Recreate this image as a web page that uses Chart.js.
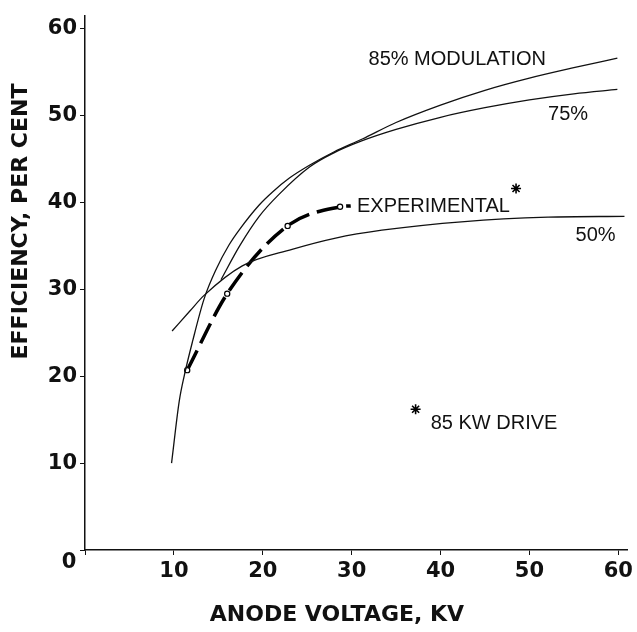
<!DOCTYPE html>
<html>
  <head>
    <title>Efficiency vs Anode Voltage</title>
    <script src="https://cdn.jsdelivr.net/npm/chart.js"></script>
    <style>
      body { margin: 0; background: #fff; }
    </style>
  </head>
  <body>
    <canvas id="eff_chart" width="637" height="632"></canvas>

    <script>
      // curves (anode voltage kV, efficiency %)
      var mod85X = [9.74, 10.6, 11.2, 12.1, 13.4, 14.8, 16.2, 17.4, 19.6, 21.1, 23.0, 25.3, 28.0, 31.2, 35.0, 40.0, 45.0, 50.0, 55.0, 59.9];
      var mod85Y = [10.0, 17.1, 20.2, 24.0, 28.9, 32.4, 35.1, 36.9, 39.7, 41.2, 42.8, 44.3, 45.8, 47.3, 49.2, 51.2, 52.9, 54.3, 55.5, 56.6];

      var mod75X = [15.3, 17.4, 19.6, 21.8, 25.3, 28.0, 31.2, 35.0, 40.0, 45.0, 50.0, 55.0, 59.9];
      var mod75Y = [31.1, 35.0, 38.4, 40.9, 44.1, 45.7, 47.1, 48.4, 49.8, 50.9, 51.8, 52.5, 53.0];

      var mod50X = [9.8, 11.8, 13.4, 17.7, 23.3, 28.2, 33.4, 42.7, 52.1, 60.7];
      var mod50Y = [25.2, 27.5, 29.3, 32.7, 34.6, 35.9, 36.8, 37.8, 38.3, 38.4];

      var expX = [11.5, 16.0, 22.8, 28.7, 29.9];
      var expY = [20.7, 29.5, 37.3, 39.5, 39.6];

      // the two "*" marks
      var starX = [48.5, 37.2];
      var starY = [41.6, 16.2];

      var xTicks = [0, 10, 20, 30, 40, 50, 60];
      var yTicks = [0, 10, 20, 30, 40, 50, 60];

      // text on the plot, anchored in data units (left edge, middle)
      var noteText = ["85% MODULATION", "75%", "EXPERIMENTAL", "50%", "85 KW DRIVE", "0"];
      var noteX = [31.9, 52.1, 30.6, 55.2, 38.9, -1.8];
      var noteY = [56.4, 50.1, 39.5, 36.2, 14.6, -1.4];

      function toPoints(xs, ys) {
        return xs.map(function (x, i) {
          return { x: x, y: ys[i] };
        });
      }

      var curveStyle = {
        showLine: true,
        borderColor: "#111",
        borderWidth: 1.3,
        pointRadius: 0,
        cubicInterpolationMode: "monotone",
        fill: false,
      };

      var notesPlugin = {
        id: "notesPlugin",
        afterDatasetsDraw: function (chart) {
          var ctx = chart.ctx;
          var xs = chart.scales.x;
          var ys = chart.scales.y;
          ctx.save();
          ctx.fillStyle = "#111";
          ctx.textBaseline = "middle";
          noteText.forEach(function (t, i) {
            if (t === "0") {
              ctx.font = "bold 21px 'DejaVu Sans'";
              ctx.textAlign = "center";
            } else {
              ctx.font = "20px 'Liberation Sans'";
              ctx.textAlign = "left";
            }
            ctx.fillText(t, xs.getPixelForValue(noteX[i]), ys.getPixelForValue(noteY[i]));
          });
          ctx.restore();
        },
      };

      var ctx = document.getElementById("eff_chart").getContext("2d");

      var myChart = new Chart(ctx, {
        type: "scatter",
        data: {
          datasets: [
            Object.assign({ label: "85% modulation", data: toPoints(mod85X, mod85Y) }, curveStyle),
            Object.assign({ label: "75%", data: toPoints(mod75X, mod75Y) }, curveStyle),
            Object.assign({ label: "50%", data: toPoints(mod50X, mod50Y) }, curveStyle),
            {
              label: "Experimental",
              data: toPoints(expX, expY),
              showLine: true,
              borderColor: "#000",
              borderWidth: 3.5,
              borderDash: [22, 8],
              cubicInterpolationMode: "monotone",
              pointRadius: [2.6, 2.6, 2.6, 2.6, 0],
              pointBackgroundColor: "#fff",
              pointBorderColor: "#000",
              pointBorderWidth: 1.2,
            },
            {
              label: "85 kW drive",
              data: toPoints(starX, starY),
              showLine: false,
              pointStyle: "star",
              pointRadius: 5,
              borderColor: "#000",
              pointBorderWidth: 1.6,
            },
          ],
        },
        options: {
          responsive: false,
          animation: false,
          layout: {
            padding: { top: 10, right: 8, left: 8, bottom: 0 },
          },
          plugins: {
            legend: { display: false },
            tooltip: { enabled: false },
          },
          scales: {
            x: {
              type: "linear",
              min: 0,
              max: 61,
              afterFit: function (scale) {
                scale.height = 82;
              },
              afterBuildTicks: function (scale) {
                scale.ticks = xTicks.map(function (v) {
                  return { value: v };
                });
              },
              ticks: {
                includeBounds: false,
                padding: 4,
                color: "#111",
                font: { family: "DejaVu Sans", size: 21, weight: "bold" },
                callback: function (v) {
                  return v === 0 ? "" : v;
                },
              },
              grid: {
                drawOnChartArea: false,
                drawTicks: true,
                tickLength: 5,
                color: "#111",
              },
              border: { color: "#111", width: 1.5 },
              title: {
                display: true,
                text: "ANODE VOLTAGE, KV     ",
                color: "#111",
                font: { family: "DejaVu Sans", size: 22, weight: "bold" },
                padding: { top: 0, bottom: 4 },
              },
            },
            y: {
              type: "linear",
              min: 0,
              max: 61.5,
              afterFit: function (scale) {
                scale.width = 77;
              },
              afterBuildTicks: function (scale) {
                scale.ticks = yTicks.map(function (v) {
                  return { value: v };
                });
              },
              ticks: {
                includeBounds: false,
                padding: 3,
                color: "#111",
                font: { family: "DejaVu Sans", size: 21, weight: "bold" },
                callback: function (v) {
                  return v === 0 ? "" : v;
                },
              },
              grid: {
                drawOnChartArea: false,
                drawTicks: true,
                tickLength: 5,
                color: "#111",
              },
              border: { color: "#111", width: 1.5 },
              title: {
                display: true,
                text: "                EFFICIENCY, PER CENT",
                color: "#111",
                font: { family: "DejaVu Sans", size: 22, weight: "bold" },
                padding: { top: 0, bottom: 0 },
              },
            },
          },
        },
        plugins: [notesPlugin],
      });
    </script>
  </body>
</html>
